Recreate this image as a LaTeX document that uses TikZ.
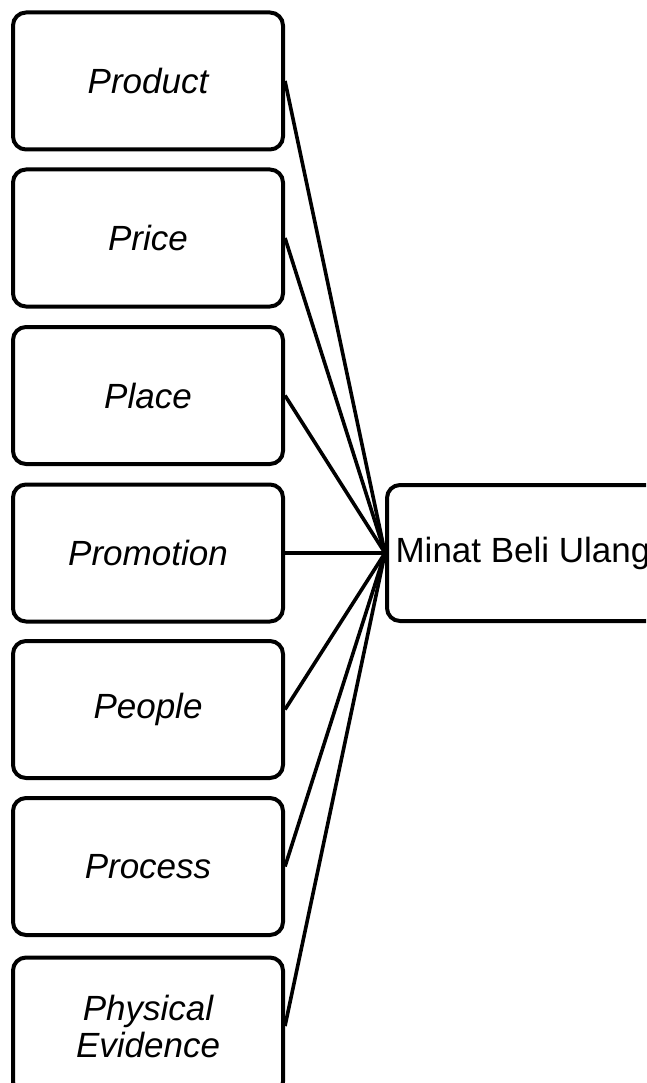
\documentclass[tikz,border=0pt]{standalone}
\usepackage{fontspec}
\setmainfont{Liberation Sans}
\begin{document}
\begin{tikzpicture}[x=1pt,y=-1pt,
  factor/.style={draw=black, line width=4pt, rounded corners=13pt, minimum width=270pt, minimum height=137pt, inner sep=0pt, font=\fontsize{35}{37}\selectfont\itshape, align=center},
  target/.style={draw=black, line width=4pt, rounded corners=13pt, minimum width=272pt, minimum height=136pt, inner sep=0pt, font=\fontsize{35}{37}\selectfont},
  link/.style={line width=3.6pt}]
\useasboundingbox (0,0) rectangle (646,1083);
\clip (0,0) rectangle (646,1083);
\node[factor] (p1) at (148,81) {Product};
\node[factor] (p2) at (148,238) {Price};
\node[factor] (p3) at (148,395.5) {Place};
\node[factor] (p4) at (148,553) {Promotion};
\node[factor] (p5) at (148,709.5) {People};
\node[factor] (p6) at (148,866.5) {Process};
\node[factor] (p7) at (148,1026) {Physical\\Evidence};
\node[target] (mb) at (523,553) {Minat Beli Ulang};
\foreach \i in {1,...,7} {\draw[link] (p\i.east) -- (mb.west);}
\end{tikzpicture}
\end{document}
